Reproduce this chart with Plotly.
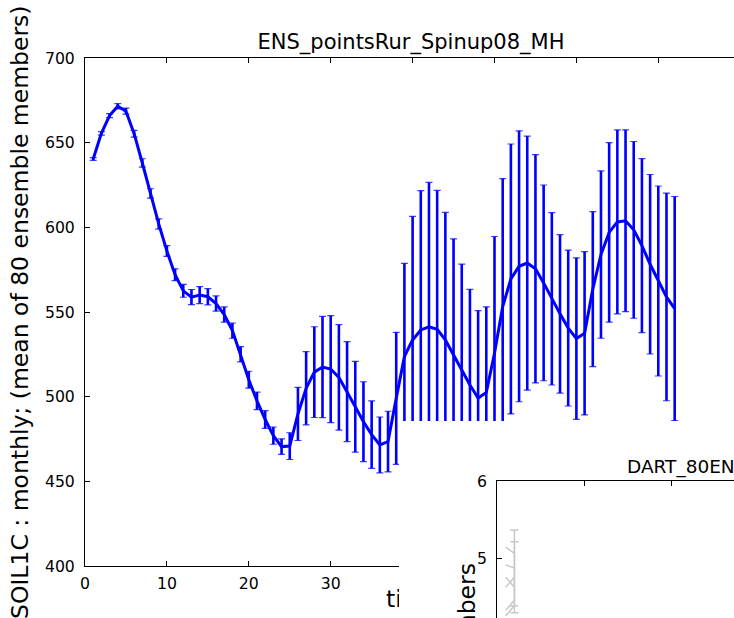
import plotly.graph_objects as go

# ---------------- data ----------------
months = list(range(1, 73))
soil1c_mean = [
    640.4, 655.5, 666.0, 671.5, 668.6, 655.3, 638.0, 620.0, 602.0, 586.0,
    572.0, 562.5, 558.8, 560.0, 559.0, 555.0, 548.5, 539.0, 525.0, 510.0,
    497.5, 486.5, 477.0, 470.5, 470.8, 489.8, 505.0, 514.5, 517.5, 516.3,
    511.4, 503.0, 494.0, 485.2, 477.6, 471.5, 473.5, 499.0, 523.7, 533.5,
    539.4, 541.3, 539.8, 533.5, 524.6, 515.8, 506.9, 499.2, 502.5, 525.6,
    553.2, 569.5, 577.0, 578.9, 575.5, 567.2, 557.8, 548.9, 540.5, 534.3,
    537.4, 563.5, 583.9, 597.0, 603.2, 603.9, 598.5, 589.2, 578.2, 568.3,
    558.9, 552.0,
]
soil1c_err = [
    0.8, 1.0, 1.2, 1.5, 1.8, 2.0, 2.5, 2.8, 3.0, 3.2,
    3.5, 3.8, 4.5, 5.0, 4.8, 4.5, 4.5, 4.5, 4.5, 5.0,
    5.2, 5.2, 5.1, 4.6, 7.9, 15.7, 21.6, 26.8, 29.9, 31.6,
    31.1, 29.5, 26.8, 23.6, 19.9, 16.5, 17.9, 39.0, 55.0, 73.0,
    82.3, 85.2, 82.0, 75.3, 68.6, 62.5, 56.5, 51.6, 50.5, 69.0,
    75.6, 79.7, 80.0, 75.0, 67.4, 57.8, 50.9, 46.8, 46.0, 47.7,
    48.2, 45.8, 49.4, 53.0, 54.3, 53.7, 52.2, 51.4, 53.0, 56.1,
    61.3, 66.2,
]
x_ticks = [0, 10, 20, 30, 40, 50, 60, 70]
y_ticks = [400, 450, 500, 550, 600, 650, 700]

main_title = "ENS_pointsRur_Spinup08_MH"
y_label = "SOIL1C : monthly; (mean of 80 ensemble members)"
x_label = "time"

# second (overlapping) figure, only a corner visible
dart_title = "DART_80ENS_pointsRur_Spinup08_MH"
dart_y_label = "mean of 80 ensemble members"
dart_x = [1, 2]
dart_members = [
    [5.14, 5.06],
    [4.91, 4.87],
    [4.62, 4.75],
    [4.75, 4.62],
    [4.32, 4.45],
    [4.25, 4.38],
]
dart_bar_x = [2, 2]
dart_bar_mean = [4.87, 4.75]
dart_bar_err = [0.494, 0.462]
dart_x_ticks = [0, 10, 20]
dart_y_ticks = [4, 5, 6]

# ---------------- layout geometry ----------------
W, H = 734, 618
FONT = "DejaVu Sans"
TICK = 15.7
TITLE = 21
DART_TITLE = 18.5
LABEL = 23.5
BLUE = "#0000ff"

def px_x(p):
    return p / W

def px_y(p):
    return 1 - p / H

fig = go.Figure()

# main series: thin error bars with caps first, thick bars (no caps) and line on top
fig.add_trace(go.Scatter(
    x=months, y=soil1c_mean, mode="lines",
    line=dict(color="rgba(0,0,0,0)", width=0),
    error_y=dict(type="data", array=soil1c_err, visible=True,
                 color="#4040ff", thickness=1.2, width=3.5),
    showlegend=False, hoverinfo="skip",
))
fig.add_trace(go.Scatter(
    x=months, y=soil1c_mean, mode="lines",
    line=dict(color=BLUE, width=3),
    error_y=dict(type="data", array=soil1c_err, visible=True,
                 color=BLUE, thickness=2.6, width=0),
    showlegend=False, hoverinfo="skip",
))
# x label of main axes (own strip under the axes, partly hidden by the overlapping figure)
fig.add_trace(go.Scatter(
    x=[40], y=[0.33], mode="text", text=[x_label], xaxis="x2", yaxis="y2",
    textfont=dict(family=FONT, size=LABEL, color="black"),
    textposition="middle center", cliponaxis=False,
    showlegend=False, hoverinfo="skip",
))
# white cover of the overlapping second figure
fig.add_trace(go.Scatter(x=[], y=[], xaxis="x3", yaxis="y3", showlegend=False))
# grey marks of the second figure
for m in dart_members:
    fig.add_trace(go.Scatter(
        x=dart_x, y=m, mode="lines", xaxis="x4", yaxis="y4",
        line=dict(color="#c8c8c8", width=1.5),
        showlegend=False, hoverinfo="skip",
    ))
for xb, yb, eb in zip(dart_bar_x, dart_bar_mean, dart_bar_err):
    fig.add_trace(go.Scatter(
        x=[xb], y=[yb], mode="markers", xaxis="x4", yaxis="y4",
        marker=dict(size=1, color="rgba(0,0,0,0)"),
        error_y=dict(type="data", array=[eb], visible=True,
                     color="#c8c8c8", thickness=1.5, width=4),
        showlegend=False, hoverinfo="skip",
    ))

axis_common = dict(showgrid=False, zeroline=False, showline=True,
                   linecolor="black", linewidth=1, ticks="inside",
                   ticklen=5, tickcolor="black", automargin=False,
                   tickfont=dict(family=FONT, size=TICK, color="black"))
x_range = [0, (W - 85) / 8.19]

fig.update_layout(
    template="none",
    width=W, height=H, autosize=False,
    margin=dict(l=0, r=0, t=0, b=0, pad=0, autoexpand=False),
    paper_bgcolor="white", plot_bgcolor="white",
    font=dict(family=FONT, color="black"),
    title=dict(text=main_title, x=px_x(411), y=px_y(42),
               xref="paper", yref="container",
               xanchor="center", yanchor="middle", automargin=False,
               font=dict(family=FONT, size=TITLE, color="black")),
    xaxis=dict(domain=[px_x(85), 1], range=x_range,
               tickvals=x_ticks, mirror="ticks", anchor="y",
               ticklabelstandoff=3, **axis_common),
    yaxis=dict(domain=[px_y(566), px_y(58)], range=[400, 700],
               tickvals=y_ticks, mirror=False, anchor="x",
               ticklabelstandoff=6, **axis_common),
    # strip holding the x label
    xaxis2=dict(domain=[px_x(85), 1], range=x_range, visible=False, anchor="y2"),
    yaxis2=dict(domain=[0, px_y(566)], range=[0, 1], visible=False, anchor="x2"),
    # white cover of the second figure
    xaxis3=dict(domain=[px_x(399), 1], range=[0, 1], visible=False, anchor="y3"),
    yaxis3=dict(domain=[0, px_y(421)], range=[0, 1], visible=False, anchor="x3"),
    # second figure axes
    xaxis4=dict(domain=[px_x(497), 1], range=[0, (W - 497) / 8.7],
                tickvals=dart_x_ticks, side="top", showticklabels=False,
                anchor="y4", **axis_common),
    yaxis4=dict(domain=[0, px_y(481)], range=[6 - (H - 481) / 77.0, 6],
                tickvals=dart_y_ticks, anchor="x4",
                ticklabelstandoff=6, **axis_common),
    annotations=[
        dict(text=y_label, x=px_x(20), y=px_y(312), xref="paper", yref="paper",
             textangle=-90, showarrow=False, xanchor="center", yanchor="middle",
             font=dict(family=FONT, size=LABEL, color="black")),
        dict(text=dart_title, x=px_x(625), y=px_y(467), xref="paper", yref="paper",
             showarrow=False, xanchor="left", yanchor="middle",
             font=dict(family=FONT, size=DART_TITLE, color="black")),
        dict(text=dart_y_label, x=px_x(466), y=px_y(562), xref="paper", yref="paper",
             textangle=-90, showarrow=False, xanchor="center", yanchor="top",
             font=dict(family=FONT, size=LABEL, color="black")),
    ],
)

fig.write_html(
    "out.html",
    config={"displayModeBar": False},
    post_script="document.body.style.margin='0';document.body.style.overflow='hidden';",
)
